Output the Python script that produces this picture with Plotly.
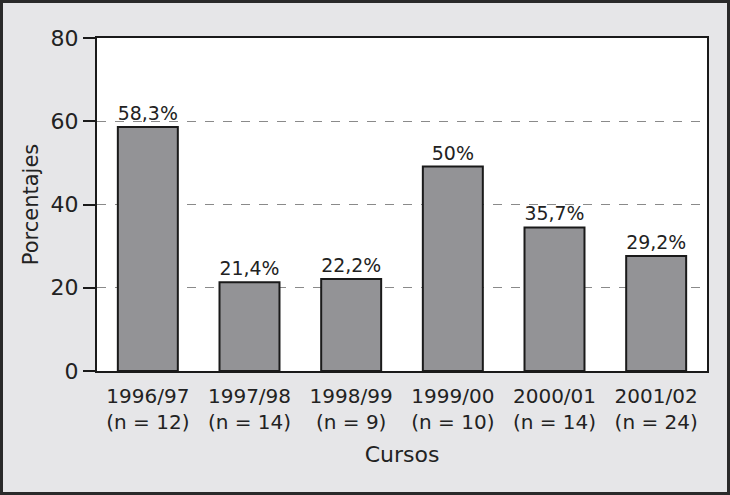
import plotly.graph_objects as go

categories = ["1996/97<br>(n = 12)", "1997/98<br>(n = 14)", "1998/99<br>(n = 9)",
              "1999/00<br>(n = 10)", "2000/01<br>(n = 14)", "2001/02<br>(n = 24)"]
values = [58.6, 21.3, 22.1, 49.1, 34.5, 27.6]
labels = ["58,3%", "21,4%", "22,2%", "50%", "35,7%", "29,2%"]
y_ticks = [0, 20, 40, 60, 80]

W, H = 730, 495
L, R, T, B = 97, 23, 38, 124
pw, ph = W - L - R, H - T - B
FONT = "DejaVu Sans"
TXT = "#222222"

fig = go.Figure()
fig.add_trace(go.Bar(
    x=categories, y=values, text=labels, textposition="outside",
    textfont=dict(family=FONT, size=19, color=TXT),
    marker=dict(color="#939396", line=dict(color="#1a1a1a", width=2)),
    width=0.59, cliponaxis=False,
))

fig.update_layout(
    width=W, height=H,
    margin=dict(l=L, r=R, t=T, b=B),
    paper_bgcolor="#e6e6e8", plot_bgcolor="white",
    showlegend=False,
    font=dict(family=FONT, size=20, color=TXT),
    xaxis=dict(
        showline=True, linecolor="#1a1a1a", linewidth=2, mirror=True,
        ticks="", tickfont=dict(family=FONT, size=20, color=TXT), ticklabelstandoff=6,
        title=dict(text="Cursos", font=dict(family=FONT, size=22, color=TXT), standoff=14),
        showgrid=False,
    ),
    yaxis=dict(
        range=[0, 80], tickvals=y_ticks,
        showline=True, linecolor="#1a1a1a", linewidth=2, mirror=True,
        ticks="outside", ticklen=12, tickwidth=2, tickcolor="#1a1a1a",
        tickfont=dict(family=FONT, size=22, color=TXT),
        showgrid=True, gridcolor="#8a8a8a", griddash="dash", gridwidth=1,
        zeroline=False,
        title=dict(text="Porcentajes", font=dict(family=FONT, size=21, color=TXT), standoff=6),
    ),
    shapes=[dict(
        type="rect", xref="paper", yref="paper",
        x0=(-L + 1.5) / pw, x1=1 + (R - 1.5) / pw,
        y0=(-B + 1.5) / ph, y1=1 + (T - 1.5) / ph,
        line=dict(color="#2a2a2a", width=3), fillcolor="rgba(0,0,0,0)", layer="above",
    )],
)

fig.write_html("out.html", config={"displayModeBar": False},
               post_script="document.body.style.margin='0';document.body.style.overflow='hidden';")
